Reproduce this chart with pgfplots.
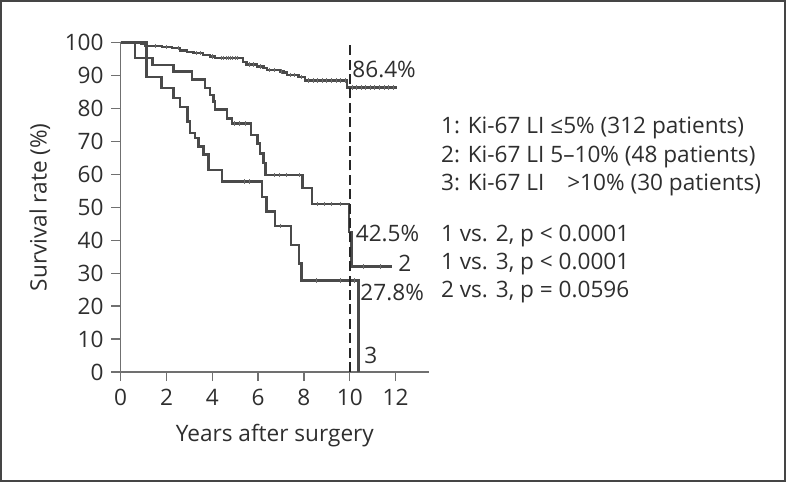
\documentclass[border=0pt]{standalone}
\usepackage{fontspec}
\setmainfont{Open Sans}
\usepackage{pgfplots}
\pgfplotsset{compat=1.18}
\definecolor{curve}{HTML}{4A4A4A}
\definecolor{axisgray}{HTML}{707070}
\definecolor{txt}{HTML}{2E2E2E}
\definecolor{frame}{HTML}{454545}
\begin{document}
\fontsize{11.3}{13.5}\selectfont
\begin{tikzpicture}[x=1pt,y=1pt]
\useasboundingbox (0,0) rectangle (393,241);
\draw[line width=1.1pt, frame] (0.55,0.55) rectangle (392.45,240.45);
\begin{axis}[
  at={(60.35pt,55pt)}, anchor=south west,
  scale only axis, width=154.15pt, height=164.65pt,
  xmin=0, xmax=13.46, ymin=0, ymax=100,
  axis x line*=bottom, axis y line*=left,
  axis line style={axisgray, line width=0.7pt, -},
  tick align=outside, major tick length=4.6pt,
  tick style={axisgray, line width=0.7pt},
  xtick={0,2,...,12}, ytick={0,10,...,100},
  /pgf/number format/assume math mode=true,
  ticklabel style={font=\fontsize{11.3}{13.5}\selectfont, text=txt},
  label style={font=\fontsize{11.3}{13.5}\selectfont, text=txt},
  xlabel={Years after surgery}, ylabel={Survival rate (\%)},
  xlabel style={at={(axis description cs:0.5,-0.192)}, anchor=center},
  ylabel style={at={(axis description cs:-0.262,0.5)}, anchor=center},
  clip=false,
  every axis plot/.append style={line join=miter},
]
% group 1: Ki-67 LI <= 5%
\addplot[const plot, curve, line width=1.2pt] coordinates {
 (0,100) (0.9,99.6) (1.06,99.0) (1.8,98.7) (2.23,98.3) (2.59,97.6) (2.9,97.2)
 (3.17,96.8) (3.6,96.3) (3.90,95.8) (4.12,95.3) (5.35,94.2) (5.50,93.4)
 (5.94,92.8) (6.23,92.3) (6.38,91.7) (6.96,91.2) (7.10,90.9) (7.25,90.2)
 (7.76,89.5) (8.05,88.5) (9.87,86.4) (12.05,86.4)};
% group 2: 5-10%
\addplot[const plot, curve, line width=1.2pt] coordinates {
 (0,100) (0.62,95.4) (1.38,93.3) (2.30,91.3) (3.10,88.8) (3.68,86.2)
 (3.90,84.2) (4.05,82.2) (4.12,79.7) (4.63,77.0) (4.85,75.5) (5.69,72.0)
 (5.98,69.4) (6.08,66.4) (6.23,63.4) (6.33,59.8) (7.93,55.8) (8.34,51.0)
 (9.98,42.5) (10.08,32.0) (11.83,32.0)};
% group 3: >10%
\addplot[const plot, curve, line width=1.2pt] coordinates {
 (0,100) (1.13,89.5) (1.79,86.2) (2.30,83.2) (2.59,80.5) (2.92,76.1)
 (3.03,72.6) (3.24,71.1) (3.39,68.5) (3.61,66.0) (3.83,61.3) (4.41,57.8)
 (6.16,53.2) (6.37,48.7) (6.74,44.4) (7.44,38.6) (7.79,33.0) (7.90,27.8)
 (10.38,0)};
% censored
\addplot[only marks, mark=|, mark size=1.1pt, curve!80, line width=0.45pt] coordinates {
 (1.5,99.0) (2.0,98.7) (2.5,98.3) (3.3,96.8) (3.5,96.8) (4.0,95.8)
 (4.4,95.3) (4.5,95.3) (4.6,95.3) (4.7,95.3) (4.8,95.3) (4.9,95.3) (5.0,95.3) (5.1,95.3)
 (5.6,93.4) (5.8,93.4) (6.1,92.8) (6.5,91.7) (6.7,91.7) (7.0,91.2) (7.4,90.2)
 (7.6,90.2) (7.9,89.5) (8.2,88.5) (8.4,88.5) (8.6,88.5) (8.8,88.5) (9.0,88.5)
 (9.2,88.5) (9.4,88.5) (9.6,88.5) (9.8,88.5)
 (10.1,86.4) (10.3,86.4) (10.5,86.4) (10.7,86.4) (10.9,86.4) (11.1,86.4)
 (11.3,86.4) (11.5,86.4) (11.7,86.4) (11.9,86.4)
 (4.95,75.5) (5.2,75.5) (5.45,75.5) (6.7,59.8) (6.95,59.8) (7.25,59.8) (7.8,59.8)
 (8.6,51.0) (8.9,51.0) (9.2,51.0) (9.6,51.0) (10.6,32.0) (11.35,32.0)
 (5.4,57.8) (5.6,57.8) (6.96,44.4) (8.55,27.8) (9.6,27.8) (10.2,27.8)};
% 10-year line
\addplot[black!85, line width=1pt, dash pattern=on 5pt off 2.2pt] coordinates {(10,0) (10,100)};
\node[anchor=west, inner sep=0, text=txt] at (axis cs:10.1,91.8) {86.4\%};
\node[anchor=west, inner sep=0, text=txt] at (axis cs:10.25,42.2) {42.5\%};
\node[anchor=west, inner sep=0, text=txt] at (axis cs:12.1,33.0) {2};
\node[anchor=west, inner sep=0, text=txt] at (axis cs:10.45,24.2) {27.8\%};
\node[anchor=west, inner sep=0, text=txt] at (axis cs:10.62,5.0) {3};
\end{axis}
\begin{scope}[every node/.style={anchor=base west, inner sep=0, text=txt}]
\node at (220.35,174.35) {1: Ki-67 LI ≤5\% (312 patients)};
\node at (220.35,159.65) {2: Ki-67 LI 5–10\% (48 patients)};
\node at (220.35,145.65) {3: Ki-67 LI \hspace{0.75em}>10\% (30 patients)};
\node at (220.35,120.15) {1 vs. 2, p < 0.0001};
\node at (220.35,106.35) {1 vs. 3, p < 0.0001};
\node at (220.35,92.35) {2 vs. 3, p = 0.0596};
\end{scope}
\end{tikzpicture}
\end{document}
